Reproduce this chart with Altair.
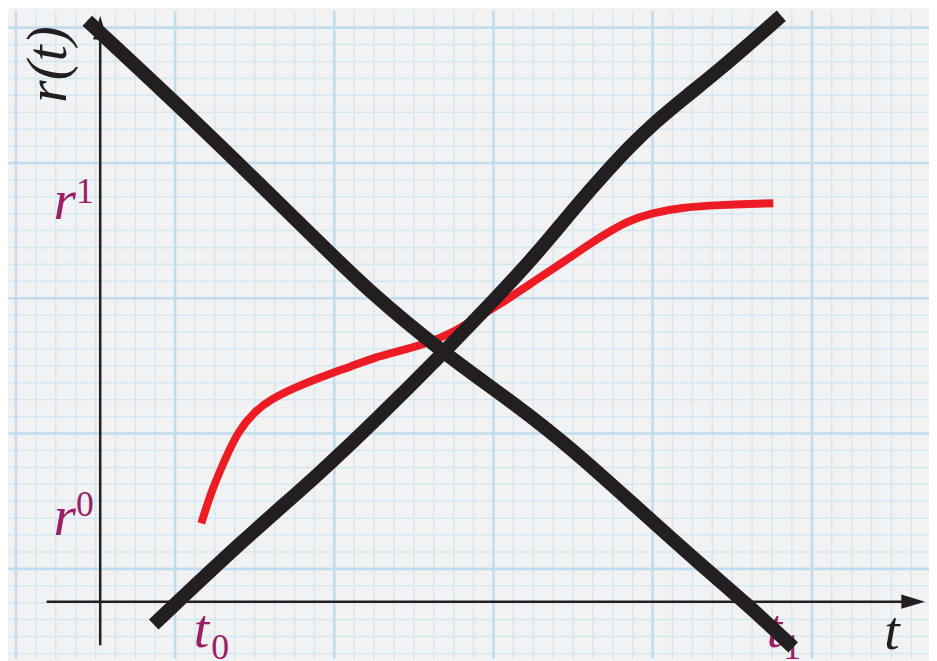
import altair as alt
import pandas as pd

# ---- data (grid units: 1 unit = one minor square of the graph paper) ----
down_t = [-0.65, 4.93, 10.56, 13.55, 17.24, 20.88, 23.72, 26.86, 30.19, 32.49, 34.83]
down_r = [34.35, 28.25, 21.75, 18.29, 14.71, 11.66, 9.03, 5.69, 2.17, -0.12, -2.70]

up_t = [2.69, 7.28, 10.91, 13.90, 17.24, 19.88, 21.87, 24.12, 25.41, 26.61, 27.85, 29.35, 31.34, 34.23]
up_r = [-1.35, 3.75, 7.44, 10.79, 14.71, 17.94, 20.46, 23.68, 25.38, 26.91, 28.31, 29.78, 31.65, 34.64]

red_t = [5.08, 5.58, 6.28, 6.93, 7.77, 8.57, 9.77, 11.41, 12.56, 13.90, 14.90, 16.54,
         17.74, 18.54, 19.88, 21.87, 23.52, 25.21, 26.51, 27.70, 29.35, 30.99, 33.83]
red_r = [4.63, 6.51, 8.44, 10.08, 11.25, 11.96, 12.66, 13.42, 13.89, 14.48, 14.77, 15.30,
         15.94, 16.53, 17.41, 18.99, 20.28, 21.63, 22.51, 22.98, 23.33, 23.45, 23.56]

labels = ["r(t)", "r", "1", "r", "0", "t", "0", "t", "1", "t"]

# ---- layout ----
X0, X1 = -4.634, 41.654
Y0, Y1 = -3.341, 34.936
XS = alt.Scale(domain=[X0, X1], nice=False, zero=False)
YS = alt.Scale(domain=[Y0, Y1], nice=False, zero=False)

PAPER = "#f2f2f2"
MINOR = "#d3e7f3"
MAJOR = "#c0ddef"
INK = "#231f20"
RED = "#ed1c24"
PURPLE = "#9a1f66"
SERIF = "Liberation Serif"


# graph-paper lines (decoration), every segment given by its two ends
def paper(vertical, major):
    rows = []
    if vertical:
        for k in range(0, 47):
            if (k % 8 == 0) == major:
                g = k - 4.235
                rows.append({"x": g, "x2": g, "y": Y0, "y2": Y1})
    else:
        for k in range(0, 38):
            if (k % 8 == 0) == major:
                g = 33.94 - k
                rows.append({"x": X0, "x2": X1, "y": g, "y2": g})
    return pd.DataFrame(rows)


def grid_layer(vertical, major):
    return alt.Chart(paper(vertical, major)).mark_rule(
        color=MAJOR if major else MINOR, strokeWidth=2.6 if major else 1.5
    ).encode(
        x=alt.X("x:Q", scale=XS, axis=None), x2="x2:Q",
        y=alt.Y("y:Q", scale=YS, axis=None), y2="y2:Q",
    )


def curve(ts, rs, color, width):
    df = pd.DataFrame({"x": ts, "y": rs})
    return alt.Chart(df).mark_line(
        color=color, strokeWidth=width, strokeCap="butt", strokeJoin="round", interpolate="basis"
    ).encode(
        x=alt.X("x:Q", scale=XS, axis=None),
        y=alt.Y("y:Q", scale=YS, axis=None),
    )


red = curve(red_t, red_r, RED, 8)
down = curve(down_t, down_r, INK, 14)
up = curve(up_t, up_r, INK, 14)

# coordinate axes
axes_df = pd.DataFrame({"x": [0.0, -2.69], "x2": [0.0, 40.3], "y": [-2.58, 0.0], "y2": [33.3, 0.0]})
axes_lines = alt.Chart(axes_df).mark_rule(color=INK, strokeWidth=2.5).encode(
    x=alt.X("x:Q", scale=XS, axis=None), x2="x2:Q",
    y=alt.Y("y:Q", scale=YS, axis=None), y2="y2:Q",
)


def arrow(x, y, path):
    df = pd.DataFrame({"x": [x], "y": [y]})
    return alt.Chart(df).mark_point(
        shape=path, filled=True, color=INK, opacity=1, size=576, strokeWidth=0
    ).encode(x=alt.X("x:Q", scale=XS, axis=None), y=alt.Y("y:Q", scale=YS, axis=None))


arrow_r = arrow(40.86, 0.0, "M-1,-0.6L1,0L-1,0.6Z")
arrow_u = arrow(0.0, 33.94, "M-0.6,1L0,-1L0.6,1Z")


def label(txt, x, y, size, color, italic=True, align="left", angle=0):
    kw = dict(font=SERIF, fontSize=size, color=color,
              align=align, baseline="alphabetic", angle=angle)
    if italic:
        kw["fontStyle"] = "italic"
    df = pd.DataFrame({"x": [x], "y": [y], "label": [txt]})
    return alt.Chart(df).mark_text(**kw).encode(
        x=alt.X("x:Q", scale=XS, axis=None),
        y=alt.Y("y:Q", scale=YS, axis=None),
        text="label:N",
    )


texts = [
    label(labels[0], -1.74, 31.77, 58, INK, align="center", angle=270),
    label(labels[1], -2.35, 22.63, 58, PURPLE),
    label(labels[2], -1.22, 23.56, 36, PURPLE, italic=False),
    label(labels[3], -2.35, 3.93, 58, PURPLE),
    label(labels[4], -1.22, 5.04, 36, PURPLE, italic=False),
    label(labels[5], 4.70, -2.70, 56, PURPLE),
    label(labels[6], 5.58, -3.40, 36, PURPLE, italic=False),
    label(labels[7], 33.50, -2.70, 56, PURPLE),
    label(labels[8], 34.33, -3.40, 36, PURPLE, italic=False),
    label(labels[9], 39.40, -2.81, 56, INK),
]

chart = alt.layer(
    grid_layer(True, False), grid_layer(False, False),
    grid_layer(True, True), grid_layer(False, True),
    *texts, red, down, up, axes_lines, arrow_r, arrow_u
).properties(
    width=929, height=653, background=PAPER, padding=0,
    autosize=alt.AutoSizeParams(type="none"),
).configure_view(stroke=None)

chart.save("out.html", embed_options={"renderer": "svg", "actions": False})
